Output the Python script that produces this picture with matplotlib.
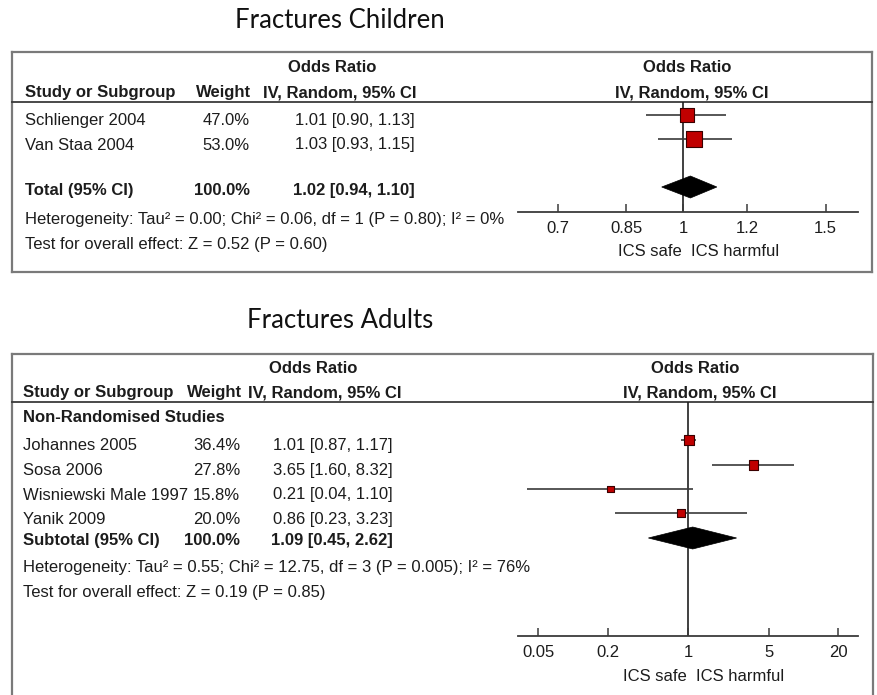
import math
import matplotlib
matplotlib.use("Agg")
import matplotlib.pyplot as plt
from matplotlib.patches import Polygon
from matplotlib.ticker import FixedLocator, FixedFormatter, NullLocator

W, H, DPI = 878, 695, 100

# ---- Fractures in children ----
child_studies = ["Schlienger 2004", "Van Staa 2004"]
child_weight = [47.0, 53.0]
child_or = [1.01, 1.03]
child_lo = [0.90, 0.93]
child_hi = [1.13, 1.15]
child_total = [1.02, 0.94, 1.10]
child_total_weight = 100.0
child_het = "Heterogeneity: Tau² = 0.00; Chi² = 0.06, df = 1 (P = 0.80); I² = 0%"
child_test = "Test for overall effect: Z = 0.52 (P = 0.60)"
child_ticks = [0.7, 0.85, 1, 1.2, 1.5]
child_tick_labels = ["0.7", "0.85", "1", "1.2", "1.5"]

# ---- Fractures in adults ----
adult_group = "Non-Randomised Studies"
adult_studies = ["Johannes 2005", "Sosa 2006", "Wisniewski Male 1997", "Yanik 2009"]
adult_weight = [36.4, 27.8, 15.8, 20.0]
adult_or = [1.01, 3.65, 0.21, 0.86]
adult_lo = [0.87, 1.60, 0.04, 0.23]
adult_hi = [1.17, 8.32, 1.10, 3.23]
adult_total = [1.09, 0.45, 2.62]
adult_total_weight = 100.0
adult_het = "Heterogeneity: Tau² = 0.55; Chi² = 12.75, df = 3 (P = 0.005); I² = 76%"
adult_test = "Test for overall effect: Z = 0.19 (P = 0.85)"
adult_ticks = [0.05, 0.2, 1, 5, 20]
adult_tick_labels = ["0.05", "0.2", "1", "5", "20"]

TEXT = "#1c1c1c"
LINE = "#3a3a3a"
BORDER = "#7a7a7a"
SQ_FILL = "#c00000"
SQ_EDGE = "#3a0000"
FONT = "Liberation Sans"
FS = 12

fig = plt.figure(figsize=(W / DPI, H / DPI), dpi=DPI)
canvas = fig.add_axes([0, 0, 1, 1])
canvas.set_xlim(0, W)
canvas.set_ylim(H, 0)
canvas.axis("off")


def txt(x, y, s, ha="left", bold=False, size=FS, family=FONT, color=TEXT):
    canvas.text(x, y, s, ha=ha, va="baseline", fontsize=size, family=family,
                fontweight="bold" if bold else "normal", color=color)


def ci_label(o, lo, hi):
    return f"{o:.2f} [{lo:.2f}, {hi:.2f}]"


def panel(L, title, studies, weight, ors, los, his, total, total_w, total_name,
          het, test, ticks, tick_labels, group=None):
    x0, x1, y0, y1 = L["box"]
    # frame
    canvas.plot([x0, x1], [y0, y0], color=BORDER, lw=1.6, solid_capstyle="projecting")
    canvas.plot([x0, x0], [y0, y1], color=BORDER, lw=1.6)
    canvas.plot([x1, x1], [y0, y1], color=BORDER, lw=1.6)
    if L["closed"]:
        canvas.plot([x0, x1], [y1, y1], color=BORDER, lw=1.6, solid_capstyle="projecting")
    canvas.plot([x0, x1], [L["sep"], L["sep"]], color=LINE, lw=1.3)

    # title
    txt(340, L["title_y"], title, ha="center", size=18.5, family="Lato", color="#111111")

    # headers
    txt(L["or_hdr_x"], L["hdr1"], "Odds Ratio", ha="center", bold=True)
    txt(L["study_x"], L["hdr2"], "Study or Subgroup", bold=True)
    txt(L["w_hdr_x"], L["hdr2"], "Weight", ha="right", bold=True)
    txt(L["ci_hdr_x"], L["hdr2"], "IV, Random, 95% CI", ha="right", bold=True)
    txt(L["r_hdr1_x"], L["hdr1"], "Odds Ratio", ha="center", bold=True)
    txt(L["r_hdr2_x"], L["hdr2"], "IV, Random, 95% CI", ha="center", bold=True)

    if group is not None:
        txt(L["study_x"], L["group_y"], group, bold=True)

    for name, w, o, lo, hi, yb in zip(studies, weight, ors, los, his, L["rows"]):
        txt(L["study_x"], yb, name)
        txt(L["w_x"], yb, f"{w:.1f}%", ha="right")
        txt(L["ci_x"], yb, ci_label(o, lo, hi), ha="right")

    txt(L["study_x"], L["total_y"], total_name, bold=True)
    txt(L["w_x"], L["total_y"], f"{total_w:.1f}%", ha="right", bold=True)
    txt(L["ci_x"], L["total_y"], ci_label(*total), ha="right", bold=True)
    txt(L["study_x"], L["het_y"], het)
    txt(L["study_x"], L["test_y"], test)

    # forest plot area
    px0, px1 = L["plot_x"]
    top, bot = L["sep"], L["axis_y"]
    ax = fig.add_axes([px0 / W, 1 - bot / H, (px1 - px0) / W, (bot - top) / H])
    ax.set_xscale("log")
    ax.set_xlim(*L["xlim"])
    ax.set_ylim(bot, top)
    ax.patch.set_alpha(0)
    for s in ("left", "right", "top"):
        ax.spines[s].set_visible(False)
    ax.spines["bottom"].set_color(LINE)
    ax.spines["bottom"].set_linewidth(1.3)
    ax.yaxis.set_major_locator(NullLocator())
    ax.xaxis.set_major_locator(FixedLocator(ticks))
    ax.xaxis.set_major_formatter(FixedFormatter(tick_labels))
    ax.xaxis.set_minor_locator(NullLocator())
    ax.tick_params(axis="x", direction="in", length=5.5, width=1.1, color=LINE,
                   labelsize=FS, labelcolor=TEXT, pad=6.5)
    for lab in ax.get_xticklabels():
        lab.set_family(FONT)

    ax.axvline(1, color="#202020", lw=1.2, zorder=1)
    ax.hlines(L["marks"], los, his, color=LINE, lw=1.2, zorder=2)
    sizes = [(L["sq_k"] * math.sqrt(w) * 72 / DPI) ** 2 for w in weight]
    ax.scatter(ors, L["marks"], s=sizes, marker="s", c=SQ_FILL,
               edgecolors=SQ_EDGE, linewidths=0.8, zorder=3)

    est, lo, hi = total
    yd, hd = L["diamond_y"], 11
    ax.add_patch(Polygon([(lo, yd), (est, yd - hd), (hi, yd), (est, yd + hd)],
                         closed=True, facecolor="black", edgecolor="black",
                         lw=0.5, zorder=3))

    ax.annotate("ICS safe", xy=(1, L["ics_y"]), xycoords="data",
                xytext=(-1.5, 0), textcoords="offset points", ha="right",
                va="baseline", fontsize=FS, family=FONT, color=TEXT,
                annotation_clip=False)
    ax.annotate("ICS harmful", xy=(1, L["ics_y"]), xycoords="data",
                xytext=(5.3, 0), textcoords="offset points", ha="left",
                va="baseline", fontsize=FS, family=FONT, color=TEXT,
                annotation_clip=False)


top_layout = dict(
    box=(12, 872, 52, 272), closed=True, sep=102, title_y=28,
    hdr1=72, hdr2=97, study_x=25, w_hdr_x=251, ci_hdr_x=417,
    w_x=250, ci_x=415, or_hdr_x=332, r_hdr1_x=687.5, r_hdr2_x=692,
    rows=[125, 149.5], total_y=195, het_y=224, test_y=249,
    plot_x=(518, 858), axis_y=212, xlim=(0.624, 1.645),
    marks=[115, 139], diamond_y=187, ics_y=256, sq_k=2.15,
)

bottom_layout = dict(
    box=(12, 873, 354, 700), closed=False, sep=402, title_y=328,
    hdr1=373, hdr2=397, study_x=23, w_hdr_x=242, ci_hdr_x=402,
    w_x=240, ci_x=393, or_hdr_x=313, r_hdr1_x=695, r_hdr2_x=700,
    group_y=422, rows=[450, 475, 499.5, 524], total_y=545, het_y=572,
    test_y=597, plot_x=(518, 858), axis_y=636, xlim=(0.0333, 29.6),
    marks=[440, 465, 489, 513], diamond_y=538, ics_y=681, sq_k=1.75,
)

panel(top_layout, "Fractures Children", child_studies, child_weight, child_or,
      child_lo, child_hi, child_total, child_total_weight, "Total (95% CI)",
      child_het, child_test, child_ticks, child_tick_labels)

panel(bottom_layout, "Fractures Adults", adult_studies, adult_weight, adult_or,
      adult_lo, adult_hi, adult_total, adult_total_weight, "Subtotal (95% CI)",
      adult_het, adult_test, adult_ticks, adult_tick_labels, group=adult_group)

fig.savefig("out.png", dpi=DPI)
